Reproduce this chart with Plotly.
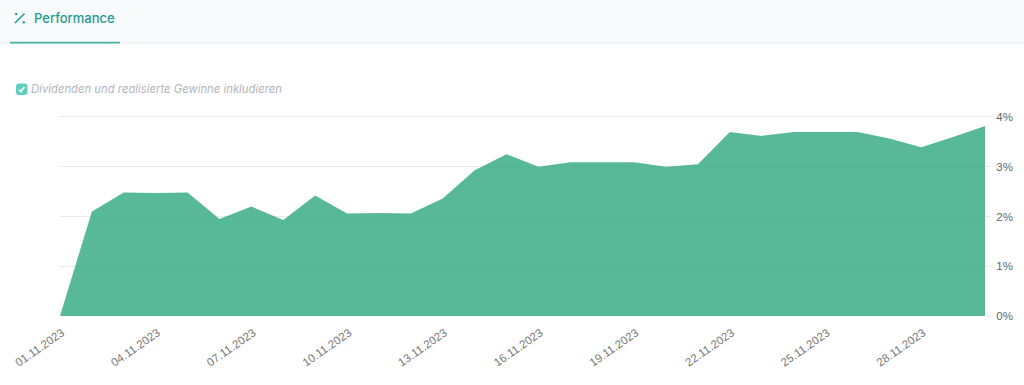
import plotly.graph_objects as go

dates = [f"2023-11-{d:02d}" for d in range(1, 31)]
performance = [0, 2.10, 2.48, 2.47, 2.48, 1.95, 2.20, 1.93, 2.42, 2.06,
               2.07, 2.06, 2.36, 2.93, 3.25, 3.00, 3.09, 3.09, 3.09, 3.00,
               3.05, 3.70, 3.62, 3.70, 3.70, 3.70, 3.57, 3.39, 3.60, 3.82]
y_ticks = [0, 1, 2, 3, 4]
y_labels = ["0%", "1%", "2%", "3%", "4%"]
tick_dates = dates[::3]
tick_labels = [f"{d[8:]}.11.2023" for d in tick_dates]
tab_title = "Performance"
checkbox_label = "Dividenden und realisierte Gewinne inkludieren"

W, H = 1024, 385
L, R, T, B = 60, 985, 114, 316
TEAL = "#239a91"
Y_TOP = 4.06


def px(x):
    return (x - L) / (R - L)


def py(y):
    return (B - y) / (B - T)


def rounded_box(x0, x1, y0, y1, r):
    return (
        f"M {px(x0 + r)} {py(y0)} L {px(x1 - r)} {py(y0)} Q {px(x1)} {py(y0)} {px(x1)} {py(y0 + r)} "
        f"L {px(x1)} {py(y1 - r)} Q {px(x1)} {py(y1)} {px(x1 - r)} {py(y1)} "
        f"L {px(x0 + r)} {py(y1)} Q {px(x0)} {py(y1)} {px(x0)} {py(y1 - r)} "
        f"L {px(x0)} {py(y0 + r)} Q {px(x0)} {py(y0)} {px(x0 + r)} {py(y0)} Z"
    )


fig = go.Figure(go.Scatter(
    x=dates, y=performance, mode="lines", line=dict(width=0, color="rgba(0,0,0,0)"),
    fill="tozeroy", fillcolor="rgba(45,168,125,0.8)", hoverinfo="skip",
))

shapes = [
    dict(type="rect", xref="paper", yref="paper", x0=px(0), x1=px(W), y0=py(43), y1=py(0),
         fillcolor="#f8fafc", line_width=0, layer="below"),
    dict(type="line", xref="paper", yref="paper", x0=px(0), x1=px(W), y0=py(43), y1=py(43),
         line=dict(color="#e8ebee", width=1), layer="below"),
    dict(type="rect", xref="paper", yref="paper", x0=px(10), x1=px(120), y0=py(43.5), y1=py(41.8),
         fillcolor="#45b5ac", line_width=0),
    # percent icon
    dict(type="line", xref="paper", yref="paper", x0=px(15), x1=px(24.5), y0=py(23), y1=py(13.5),
         line=dict(color=TEAL, width=1.6)),
    dict(type="circle", xref="paper", yref="paper", x0=px(15), x1=px(17.4), y0=py(15.2), y1=py(12.8),
         fillcolor=TEAL, line_width=0),
    dict(type="circle", xref="paper", yref="paper", x0=px(22.6), x1=px(25), y0=py(23.4), y1=py(21),
         fillcolor=TEAL, line_width=0),
    # checkbox
    dict(type="path", xref="paper", yref="paper", path=rounded_box(16, 27.5, 83.5, 95, 3),
         fillcolor="#5fcdbf", line_width=0),
    dict(type="path", xref="paper", yref="paper",
         path=f"M {px(19)} {py(89.5)} L {px(20.8)} {py(91.5)} L {px(24.4)} {py(87)}",
         line=dict(color="white", width=1.6)),
]

annotations = [
    dict(text=tab_title, xref="paper", yref="paper", x=px(32), y=py(18), xanchor="left", yanchor="middle",
         showarrow=False, font=dict(family="Inter", size=13, color=TEAL, weight=500)),
    dict(text=f"<i>{checkbox_label}</i>", xref="paper", yref="paper", x=px(29), y=py(89), xanchor="left",
         yanchor="middle", showarrow=False, font=dict(family="Inter", size=11.3, color="#b0b5bd")),
]

fig.update_layout(
    width=W, height=H, autosize=False,
    margin=dict(l=L, r=W - R, t=T, b=H - B),
    paper_bgcolor="white", plot_bgcolor="white", showlegend=False,
    shapes=shapes, annotations=annotations,
    xaxis=dict(
        type="date", range=[dates[0], dates[-1]],
        tickmode="array", tickvals=tick_dates, ticktext=tick_labels,
        tickangle=-35, tickfont=dict(family="Liberation Sans", size=11.5, color="#7a7a7a"),
        showgrid=False, zeroline=False, showline=False, ticks="",
        ticklabelstandoff=7, ticklabelshift=2,
    ),
    yaxis=dict(
        side="right", range=[0, Y_TOP], tickmode="array", tickvals=y_ticks, ticktext=y_labels,
        tickfont=dict(family="Liberation Sans", size=11.5, color="#666666"),
        showgrid=True, gridcolor="#e9e9e9", gridwidth=1, zeroline=False, showline=False,
        ticks="outside", ticklen=5, tickcolor="#e9e9e9", ticklabelstandoff=3,
    ),
)

fig.write_html(
    "out.html",
    config=dict(displayModeBar=False),
    post_script="document.body.style.margin='0';document.body.style.overflow='hidden';",
)
